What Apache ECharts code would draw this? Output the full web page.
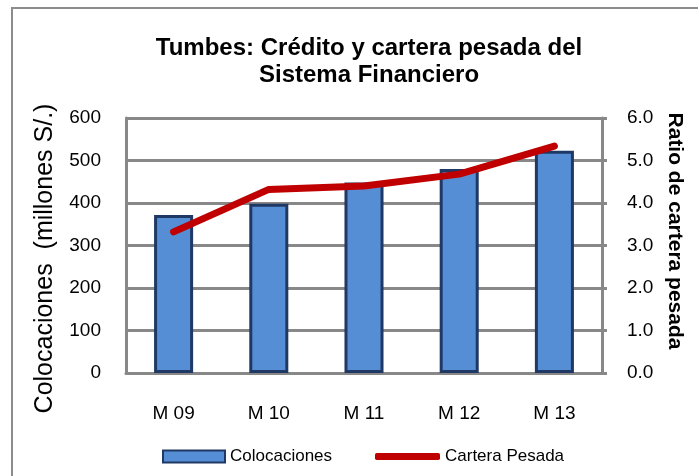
<!DOCTYPE html>
<html>
<head>
<meta charset="utf-8">
<script src="https://cdn.jsdelivr.net/npm/echarts@6/dist/echarts.min.js"></script>
<style>
  html, body { margin: 0; padding: 0; background: #fff; }
  #chart { width: 698px; height: 476px; }
</style>
</head>
<body>
<div id="chart"></div>
<script>
// datos
var meses = ['M 09', 'M 10', 'M 11', 'M 12', 'M 13'];
var colocaciones = [372, 398, 448, 480, 523];
var carteraPesada = [3.32, 4.32, 4.4, 4.68, 5.34];

var myChart = echarts.init(document.getElementById('chart'));
var fuente = 'Liberation Sans, Arial, sans-serif';

myChart.setOption({
    animation: false,
    textStyle: { fontFamily: fuente },
    graphic: [{
        type: 'rect',
        shape: { x: 12, y: 8, width: 720, height: 500 },
        style: { fill: 'none', stroke: '#8c8c8c', lineWidth: 2 }
    }],
    title: {
        text: 'Tumbes: Crédito y cartera pesada del\nSistema Financiero',
        left: 364,
        top: 30,
        textAlign: 'center',
        textStyle: {
            fontSize: 24,
            fontWeight: 'bold',
            color: '#000',
            lineHeight: 27,
            fontFamily: fuente
        }
    },
    // dos leyendas para que cada icono tenga su alto
    legend: [
        {
            left: 157,
            top: 443,
            itemWidth: 62,
            itemHeight: 12,
            textStyle: { fontSize: 17, color: '#000', fontFamily: fuente },
            data: [{ name: 'Colocaciones', icon: 'rect' }]
        },
        {
            left: 370,
            top: 443,
            itemWidth: 65,
            itemHeight: 7,
            textStyle: { fontSize: 17, color: '#000', fontFamily: fuente },
            data: [{ name: 'Cartera Pesada', icon: 'roundRect', itemStyle: { color: '#C00000' } }]
        }
    ],
    grid: { left: 126, right: 96, top: 118, bottom: 103 },
    xAxis: {
        type: 'category',
        data: meses,
        axisLine: { lineStyle: { color: '#888', width: 3 } },
        axisTick: { show: false },
        axisLabel: { fontSize: 19, color: '#000', margin: 31 }
    },
    yAxis: [
        {
            type: 'value',
            min: 0,
            max: 600,
            interval: 100,
            name: 'Colocaciones  (millones S/.)',
            nameLocation: 'middle',
            nameGap: 68,
            nameTextStyle: { fontSize: 25, color: '#000', padding: [0, 26, 0, 0] },
            axisLine: { show: true, lineStyle: { color: '#888', width: 3 } },
            axisTick: { show: false },
            axisLabel: { fontSize: 19, color: '#000', margin: 25 },
            splitLine: { lineStyle: { color: '#888', width: 3 } }
        },
        {
            type: 'value',
            min: 0,
            max: 6,
            interval: 1,
            position: 'right',
            name: 'Ratio de cartera pesada',
            nameLocation: 'middle',
            nameRotate: -90,
            nameGap: 61,
            nameTextStyle: { fontSize: 21, fontWeight: 'bold', color: '#000', padding: [0, 29, 0, 0] },
            axisLine: { show: true, lineStyle: { color: '#888', width: 3 } },
            axisTick: { show: true, length: 5, lineStyle: { color: '#888', width: 3 } },
            axisLabel: {
                fontSize: 19,
                color: '#000',
                margin: 25,
                formatter: function (v) { return v.toFixed(1); }
            },
            splitLine: { show: false }
        }
    ],
    series: [
        {
            name: 'Colocaciones',
            type: 'bar',
            data: colocaciones,
            barWidth: '41%',
            itemStyle: { color: '#558ED5', borderColor: '#1F3864', borderWidth: 3 }
        },
        {
            name: 'Cartera Pesada',
            type: 'line',
            yAxisIndex: 1,
            data: carteraPesada,
            symbol: 'none',
            lineStyle: { color: '#C00000', width: 7, cap: 'round', join: 'round' },
            itemStyle: { color: '#C00000' }
        }
    ]
});
</script>
</body>
</html>
